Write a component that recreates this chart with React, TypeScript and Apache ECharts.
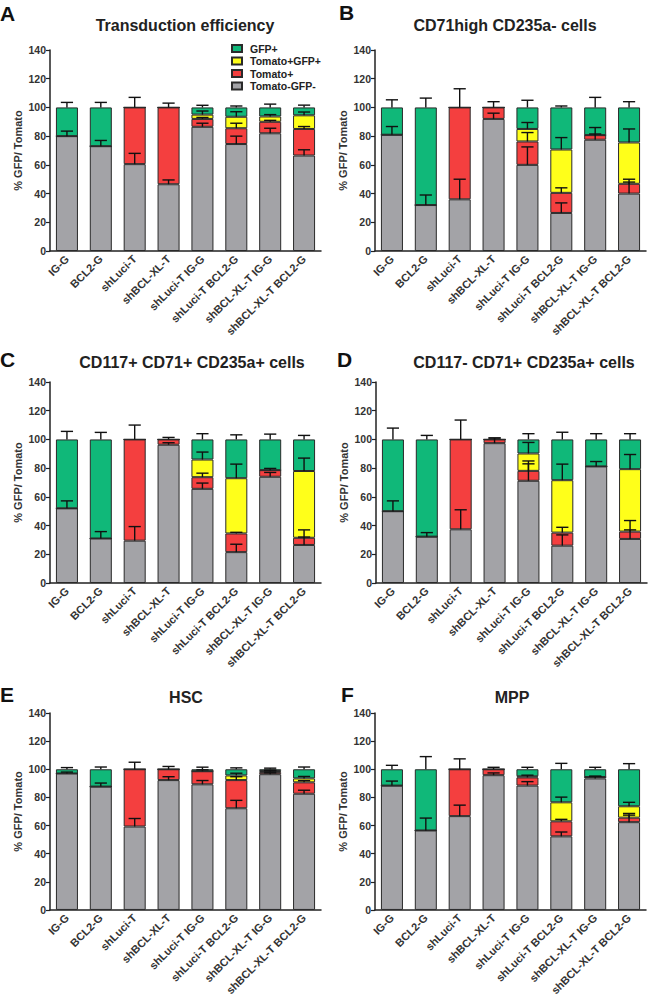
import React, { useEffect, useRef } from "react";
import * as echarts from "echarts";

const categories = [
  "IG-G",
  "BCL2-G",
  "shLuci-T",
  "shBCL-XL-T",
  "shLuci-T IG-G",
  "shLuci-T BCL2-G",
  "shBCL-XL-T IG-G",
  "shBCL-XL-T BCL2-G",
];
const seriesNames = ["Tomato-GFP-", "Tomato+", "Tomato+GFP+", "GFP+"];
const legendOrder = ["GFP+", "Tomato+GFP+", "Tomato+", "Tomato-GFP-"];
const yTicks = [0, 20, 40, 60, 80, 100, 120, 140];

// Panel A – Transduction efficiency
const A_neg = [80, 73, 60.5, 46.5, 86.5, 74.5, 82, 66.5];
const A_tom = [0, 0, 39.5, 53.5, 5.5, 11, 8, 18.5];
const A_dbl = [0, 0, 0, 0, 3, 8, 3.7, 9.5];
const A_gfp = [20, 27, 0, 0, 5, 6.5, 6.3, 5.5];
const A_negSD = [3.5, 4, 7.5, 3, 2.5, 5.5, 3.5, 4];
const A_tomSD = [0, 0, 7, 3, 1, 3.5, 1, 1.7];
const A_dblSD = [0, 0, 0, 0, 2.5, 3.5, 1.3, 2.3];
const A_gfpSD = [3.5, 3.5, 0, 0, 1.5, 1, 2.3, 1.6];

// Panel B – CD71high CD235a- cells
const B_neg = [81, 32, 36, 92, 60, 26.5, 77.5, 40];
const B_tom = [0, 0, 64, 8, 16.3, 14, 3.2, 6.8];
const B_dbl = [0, 0, 0, 0, 8.7, 30.2, 0, 28.8];
const B_gfp = [19, 68, 0, 0, 15, 29.3, 19.3, 24.4];
const B_negSD = [5.7, 7, 14, 4, 12.5, 7, 4, 8];
const B_tomSD = [0, 0, 13, 4, 6.2, 3.5, 5.3, 3.2];
const B_dblSD = [0, 0, 0, 0, 4.5, 8.3, 0, 9.4];
const B_gfpSD = [5.3, 6.5, 0, 0, 5, 1, 7, 4];

// Panel C – CD117+ CD71+ CD235a+ cells
const C_neg = [52, 31, 29.5, 96.3, 65.6, 21.5, 74, 26.5];
const C_tom = [0, 0, 70.5, 3.7, 8.1, 13, 4.6, 5];
const C_dbl = [0, 0, 0, 0, 12.3, 38.5, 0, 46.5];
const C_gfp = [48, 69, 0, 0, 14, 27, 21.4, 22];
const C_negSD = [5.2, 4.8, 9.8, 1.4, 4, 5.5, 3, 5.5];
const C_tomSD = [0, 0, 10, 1.4, 2.8, 0.8, 1.2, 5.5];
const C_dblSD = [0, 0, 0, 0, 5.2, 9.8, 0, 9];
const C_gfpSD = [5.6, 4.9, 0, 0, 4, 3.2, 3.7, 2.8];

// Panel D – CD117- CD71+ CD235a+ cells
const D_neg = [50, 32.3, 37.4, 97.4, 71.2, 26, 81.2, 30.7];
const D_tom = [0, 0, 62.6, 2.6, 6.9, 9.1, 0, 5.1];
const D_dbl = [0, 0, 0, 0, 12.1, 36.5, 0, 43.5];
const D_gfp = [50, 67.7, 0, 0, 9.8, 28.4, 18.8, 20.7];
const D_negSD = [7.2, 2.8, 13.6, 3.6, 11.8, 7.5, 3.4, 6.3];
const D_tomSD = [0, 0, 13.5, 1, 6.9, 3.7, 0, 7.7];
const D_dblSD = [0, 0, 0, 0, 7.7, 11.2, 0, 10.2];
const D_gfpSD = [7.9, 2.8, 0, 0, 4, 5, 4, 4];

// Panel E – HSC
const E_neg = [97, 87.7, 59.3, 92.3, 89.3, 72.3, 96.5, 82.6];
const E_tom = [0, 0, 40.7, 7.7, 9.3, 20, 1.5, 8.1];
const E_dbl = [0, 0, 0, 0, 0, 3.3, 0.8, 2.8];
const E_gfp = [3, 12.3, 0, 0, 1.4, 4.4, 1.2, 6.5];
const E_negSD = [1, 2.5, 5.7, 2.4, 2.7, 5.6, 1, 2.5];
const E_tomSD = [0, 0, 5, 2, 1, 2.4, 0.8, 1.2];
const E_dblSD = [0, 0, 0, 0, 0, 1.6, 0.6, 1.4];
const E_gfpSD = [1.2, 1.6, 0, 0, 1.5, 1, 0.8, 1.6];

// Panel F – MPP
const F_neg = [88.4, 56.5, 66.7, 95.8, 88.4, 52.3, 93.5, 62.4];
const F_tom = [0, 0, 33.3, 4.2, 5.8, 10.7, 1, 3.2];
const F_dbl = [0, 0, 0, 0, 0.8, 13.5, 0, 8.1];
const F_gfp = [11.6, 43.5, 0, 0, 5, 23.5, 5.5, 26.3];
const F_negSD = [3.2, 8.8, 7.8, 1.6, 2.8, 3.1, 1.5, 5];
const F_tomSD = [0, 0, 7.4, 1.4, 1.6, 1.4, 0.5, 3];
const F_dblSD = [0, 0, 0, 0, 0, 3.7, 0, 2.8];
const F_gfpSD = [2.8, 9, 0, 0, 1.4, 4.2, 1.4, 4];

const panelTitles = [
  "Transduction efficiency",
  "CD71high CD235a- cells",
  "CD117+ CD71+ CD235a+ cells",
  "CD117- CD71+ CD235a+ cells",
  "HSC",
  "MPP",
];
const panelLetters = ["A", "B", "C", "D", "E", "F"];
const panelValues = [
  [A_neg, A_tom, A_dbl, A_gfp],
  [B_neg, B_tom, B_dbl, B_gfp],
  [C_neg, C_tom, C_dbl, C_gfp],
  [D_neg, D_tom, D_dbl, D_gfp],
  [E_neg, E_tom, E_dbl, E_gfp],
  [F_neg, F_tom, F_dbl, F_gfp],
];
const panelSDs = [
  [A_negSD, A_tomSD, A_dblSD, A_gfpSD],
  [B_negSD, B_tomSD, B_dblSD, B_gfpSD],
  [C_negSD, C_tomSD, C_dblSD, C_gfpSD],
  [D_negSD, D_tomSD, D_dblSD, D_gfpSD],
  [E_negSD, E_tomSD, E_dblSD, E_gfpSD],
  [F_negSD, F_tomSD, F_dblSD, F_gfpSD],
];

// layout (not data)
const COLORS = ["#a3a3a7", "#f43f3f", "#ffff1a", "#10b879"];
const FONT = "Liberation Sans, Arial, sans-serif";
const GRIDS = [
  { left: 50, top: 50 },
  { left: 375, top: 50 },
  { left: 50, top: 382 },
  { left: 376, top: 382 },
  { left: 50, top: 713 },
  { left: 375, top: 713 },
];
const GRID_W = 271;
const GRID_H = 201;
const TITLE_POS = [
  { x: 185, y: 17 },
  { x: 505, y: 17 },
  { x: 192, y: 354 },
  { x: 524, y: 354 },
  { x: 186, y: 689 },
  { x: 512, y: 689 },
];
const LETTER_POS = [
  { x: 0, y: 3 },
  { x: 339, y: 2 },
  { x: 0, y: 349 },
  { x: 337, y: 349 },
  { x: 0, y: 684 },
  { x: 341, y: 684 },
];

function buildOption() {
  const grid: any[] = [];
  const xAxis: any[] = [];
  const yAxis: any[] = [];
  const series: any[] = [];
  const title: any[] = [];

  panelValues.forEach((vals, p) => {
    grid.push({
      left: GRIDS[p].left,
      top: GRIDS[p].top,
      width: GRID_W,
      height: GRID_H,
      containLabel: false,
    });
    xAxis.push({
      type: "category",
      gridIndex: p,
      data: categories,
      axisLine: { lineStyle: { color: "#222", width: 1.5 } },
      axisTick: { alignWithLabel: true, length: 4, lineStyle: { color: "#222", width: 1.2 } },
      axisLabel: {
        rotate: 45,
        interval: 0,
        margin: 6,
        fontSize: 11,
        fontWeight: "bold",
        fontFamily: FONT,
        color: "#333",
      },
    });
    yAxis.push({
      type: "value",
      gridIndex: p,
      min: 0,
      max: 140,
      interval: 20,
      name: "% GFP/ Tomato",
      nameLocation: "middle",
      nameGap: 27,
      nameTextStyle: { fontSize: 11, fontWeight: "bold", fontFamily: FONT, color: "#333" },
      axisLine: { show: true, lineStyle: { color: "#222", width: 1.5 } },
      axisTick: { show: true, length: 4, lineStyle: { color: "#222", width: 1.2 } },
      splitLine: { show: false },
      axisLabel: {
        fontSize: 10.5,
        fontWeight: "bold",
        fontFamily: FONT,
        color: "#333",
        margin: 4,
        customValues: yTicks,
      },
    });
    title.push({
      text: panelTitles[p],
      left: TITLE_POS[p].x,
      top: TITLE_POS[p].y,
      textAlign: "center",
      textStyle: { fontSize: 16, fontWeight: "bold", fontFamily: FONT, color: "#222" },
      padding: 0,
    });
    title.push({
      text: panelLetters[p],
      left: LETTER_POS[p].x,
      top: LETTER_POS[p].y,
      textStyle: { fontSize: 21, fontWeight: "bold", fontFamily: FONT, color: "#111" },
      padding: 0,
    });

    vals.forEach((arr, s) => {
      series.push({
        type: "bar",
        name: seriesNames[s],
        xAxisIndex: p,
        yAxisIndex: p,
        stack: "stack" + p,
        barWidth: "65%",
        data: arr,
        itemStyle: { color: COLORS[s], borderColor: "#2a2a2a", borderWidth: 1 },
        emphasis: { disabled: true },
      });
    });

    // error bars: each segment's SD drawn upward from its top
    const errData: any[] = [];
    for (let c = 0; c < categories.length; c++) {
      let cum = 0;
      for (let s = 0; s < vals.length; s++) {
        const v = vals[s][c];
        cum += v;
        const sd = panelSDs[p][s][c];
        if (v > 0 && sd > 0) errData.push([c, cum, cum + sd]);
      }
    }
    series.push({
      type: "custom",
      name: "err" + p,
      xAxisIndex: p,
      yAxisIndex: p,
      z: 5,
      encode: { x: 0, y: [1, 2] },
      data: errData,
      renderItem: (params: any, api: any) => {
        const c = api.value(0);
        const p0 = api.coord([c, api.value(1)]);
        const p1 = api.coord([c, api.value(2)]);
        const hw = api.size([1, 0])[0] * 0.18;
        const st = { stroke: "#111", lineWidth: 1.4 };
        return {
          type: "group",
          children: [
            { type: "line", shape: { x1: p0[0], y1: p0[1], x2: p1[0], y2: p1[1] }, style: st },
            { type: "line", shape: { x1: p1[0] - hw, y1: p1[1], x2: p1[0] + hw, y2: p1[1] }, style: st },
          ],
        };
      },
    });
  });

  return {
    animation: false,
    backgroundColor: "#ffffff",
    title,
    grid,
    xAxis,
    yAxis,
    series,
    legend: {
      data: legendOrder,
      orient: "vertical",
      left: 226,
      top: 38,
      itemWidth: 10,
      itemHeight: 7,
      itemGap: 1.5,
      selectedMode: false,
      icon: "rect",
      textStyle: { fontSize: 10.5, fontWeight: "bold", fontFamily: FONT, color: "#222", padding: [0, 0, 0, 3] },
    },
  };
}

export default function App() {
  const ref = useRef<HTMLDivElement>(null);
  useEffect(() => {
    if (!ref.current) return;
    const chart = echarts.init(ref.current, undefined, { renderer: "svg" });
    chart.setOption(buildOption() as any);
    return () => chart.dispose();
  }, []);
  return (
    <div
      ref={ref}
      style={{ position: "absolute", left: 0, top: 0, width: 649, height: 998, background: "#fff" }}
    />
  );
}
